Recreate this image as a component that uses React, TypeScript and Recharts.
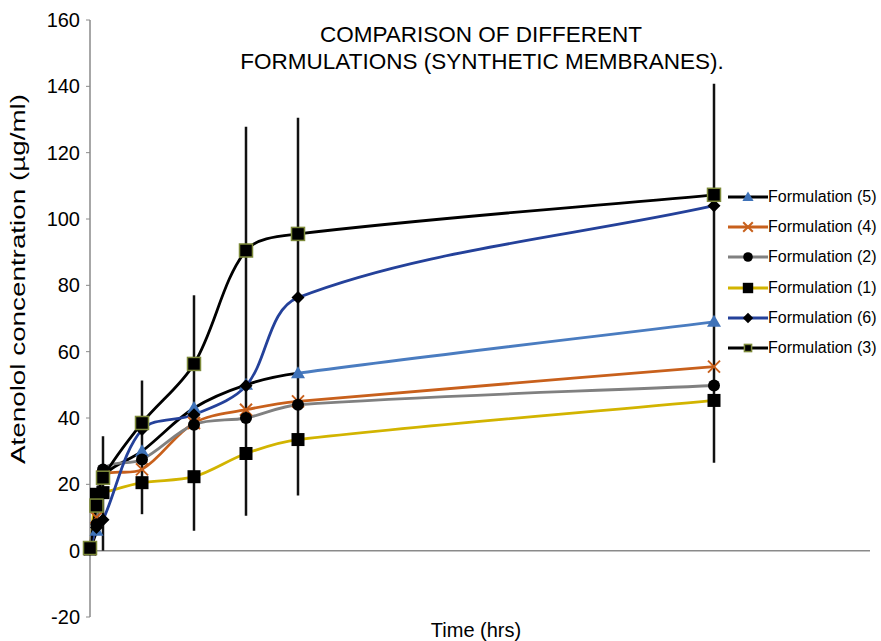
import {
    LineChart,
    Line,
    XAxis,
    YAxis,
    ErrorBar,
    ReferenceLine,
} from "recharts";

// sampling times (hrs)
const times = [0, 0.25, 0.5, 2, 4, 6, 8, 24];

// atenolol concentration (µg/ml) per formulation
const f5 = [0.5, 6, 22, 30, 43, 50, 53.5, 69];
const f4 = [0.5, 10, 22.5, 24.5, 38.5, 42.5, 45, 55.5];
const f2 = [0.5, 8, 24.5, 27.5, 38, 40, 44, 49.8];
const f1 = [0.5, 17, 17.5, 20.5, 22.3, 29.3, 33.5, 45.3];
const f6 = [0.5, 7, 9.3, 36.5, 41, 49.7, 76.3, 104];
const f3 = [0.8, 13.6, 22, 38.5, 56.3, 90.5, 95.5, 107.3];

// ends of the error whiskers drawn on formulation (3)
const whiskerLow = [null, null, 0, 11, 6, 10.5, 16.6, 26.5];
const whiskerHigh = [null, null, 34.5, 51.3, 77, 127.8, 130.5, 140.8];

const xTicks = [0, 5, 10, 15, 20, 25, 30];
const yTicks = [-20, 0, 20, 40, 60, 80, 100, 120, 140, 160];

const data = times.map((t, i) => ({
    time: t,
    f5: f5[i],
    f4: f4[i],
    f2: f2[i],
    f1: f1[i],
    f6: f6[i],
    f3: f3[i],
    err:
        whiskerLow[i] === null
            ? null
            : [f3[i] - (whiskerLow[i] as number), (whiskerHigh[i] as number) - f3[i]],
}));

const FONT = "'Liberation Sans', Arial, sans-serif";
const W = 881;
const H = 641;
const TOP = 20;
const BOTTOM = 24;
const PLOT_H = H - TOP - BOTTOM;
const ZERO_Y = TOP + (PLOT_H * 160) / 180;

// spreadsheet-style smoothed line: bezier through the points, handles scaled by chord length
function excelSmooth(context: any) {
    let pts: number[][] = [];
    const dist = (a: number[], b: number[]) => Math.hypot(b[0] - a[0], b[1] - a[1]);
    return {
        areaStart() {},
        areaEnd() {},
        lineStart() {
            pts = [];
        },
        point(x: number, y: number) {
            pts.push([+x, +y]);
        },
        lineEnd() {
            const n = pts.length;
            if (!n) return;
            context.moveTo(pts[0][0], pts[0][1]);
            for (let i = 0; i < n - 1; i++) {
                const p0 = pts[i - 1] || pts[i];
                const p1 = pts[i];
                const p2 = pts[i + 1];
                const p3 = pts[i + 2] || p2;
                const d01 = dist(p0, p1);
                const d12 = dist(p1, p2);
                const d23 = dist(p2, p3);
                const k1 = d01 + d12 > 0 ? d12 / (d01 + d12) / 3 : 0;
                const k2 = d12 + d23 > 0 ? d12 / (d12 + d23) / 3 : 0;
                context.bezierCurveTo(
                    p1[0] + (p2[0] - p0[0]) * k1,
                    p1[1] + (p2[1] - p0[1]) * k1,
                    p2[0] - (p3[0] - p1[0]) * k2,
                    p2[1] - (p3[1] - p1[1]) * k2,
                    p2[0],
                    p2[1]
                );
            }
        },
    };
}

type Shape = "triangle" | "x" | "circle" | "square" | "diamond" | "squareOlive";

const series: {
    key: string;
    name: string;
    stroke: string;
    legendStroke: string;
    shape: Shape;
}[] = [
    { key: "f5", name: "Formulation (5)", stroke: "url(#f5stroke)", legendStroke: "#000", shape: "triangle" },
    { key: "f4", name: "Formulation (4)", stroke: "#c8601c", legendStroke: "#c8601c", shape: "x" },
    { key: "f2", name: "Formulation (2)", stroke: "#808080", legendStroke: "#808080", shape: "circle" },
    { key: "f1", name: "Formulation (1)", stroke: "#d2b400", legendStroke: "#d2b400", shape: "square" },
    { key: "f6", name: "Formulation (6)", stroke: "#24419a", legendStroke: "#24419a", shape: "diamond" },
    { key: "f3", name: "Formulation (3)", stroke: "#000", legendStroke: "#000", shape: "squareOlive" },
];

function Marker({ cx, cy, shape, s = 1 }: { cx: number; cy: number; shape: Shape; s?: number }) {
    if (cx == null || cy == null) return null;
    switch (shape) {
        case "triangle":
            return (
                <path
                    d={`M${cx},${cy - 7 * s} L${cx + 7 * s},${cy + 5 * s} L${cx - 7 * s},${cy + 5 * s} Z`}
                    fill="#3f72b8"
                />
            );
        case "x":
            return (
                <g stroke="#c8601c" strokeWidth={2}>
                    <line x1={cx - 6 * s} y1={cy - 6 * s} x2={cx + 6 * s} y2={cy + 6 * s} />
                    <line x1={cx - 6 * s} y1={cy + 6 * s} x2={cx + 6 * s} y2={cy - 6 * s} />
                </g>
            );
        case "circle":
            return <circle cx={cx} cy={cy} r={6 * s} fill="#000" />;
        case "square":
            return <rect x={cx - 6.5 * s} y={cy - 6.5 * s} width={13 * s} height={13 * s} fill="#000" />;
        case "diamond":
            return (
                <path
                    d={`M${cx},${cy - 6.5 * s} L${cx + 6.5 * s},${cy} L${cx},${cy + 6.5 * s} L${cx - 6.5 * s},${cy} Z`}
                    fill="#000"
                />
            );
        case "squareOlive":
            return (
                <rect
                    x={cx - 6.5 * s}
                    y={cy - 6.5 * s}
                    width={13 * s}
                    height={13 * s}
                    fill="#000"
                    stroke="#7d8a3a"
                    strokeWidth={1.5}
                />
            );
    }
}

function XTick({ x, payload }: any) {
    return (
        <g>
            <line x1={x} x2={x} y1={ZERO_Y} y2={ZERO_Y + 5} stroke="#8a8a8a" strokeWidth={1.2} />
            <text x={x} y={ZERO_Y + 31} textAnchor="middle" fontSize={20} fill="#000" fontFamily={FONT}>
                {payload.value}
            </text>
        </g>
    );
}

function LegendBox() {
    return (
        <div
            style={{
                position: "absolute",
                left: 728,
                top: 182,
                fontFamily: FONT,
                fontSize: 16,
                color: "#000",
                whiteSpace: "nowrap",
            }}
        >
            {series.map((s) => (
                <div key={s.key} style={{ display: "flex", alignItems: "center", height: 30.2 }}>
                    <svg width={40} height={16}>
                        <line x1={0} x2={40} y1={8} y2={8} stroke={s.legendStroke} strokeWidth={3} />
                        <Marker cx={20} cy={8} shape={s.shape} s={s.shape === "squareOlive" ? 0.55 : 0.8} />
                    </svg>
                    <span>{s.name}</span>
                </div>
            ))}
        </div>
    );
}

export default function App() {
    return (
        <div style={{ position: "absolute", left: 0, top: 0, width: W, height: H, background: "#fff" }}>
            <LineChart
                width={W}
                height={H}
                data={data}
                margin={{ top: TOP, right: 11, bottom: BOTTOM, left: 0 }}
            >
                <defs>
                    <linearGradient id="f5stroke" x1="0" y1="0" x2="1" y2="0">
                        <stop offset="0" stopColor="#000" />
                        <stop offset="0.333" stopColor="#000" />
                        <stop offset="0.334" stopColor="#4a7cc0" />
                        <stop offset="1" stopColor="#4a7cc0" />
                    </linearGradient>
                </defs>

                <text x={481} y={42} textAnchor="middle" fontSize={22.5} fontFamily={FONT} fill="#000">
                    COMPARISON OF DIFFERENT
                </text>
                <text x={482} y={69} textAnchor="middle" fontSize={22.5} fontFamily={FONT} fill="#000">
                    FORMULATIONS (SYNTHETIC MEMBRANES).
                </text>
                <text x={476} y={637} textAnchor="middle" fontSize={20} fontFamily={FONT} fill="#000">
                    Time (hrs)
                </text>
                <text
                    x={25}
                    y={279}
                    textAnchor="middle"
                    fontSize={21}
                    fontFamily={FONT}
                    fill="#000"
                    textLength={370}
                    lengthAdjust="spacingAndGlyphs"
                    transform="rotate(-90 25 279)"
                >
                    Atenolol concentration (µg/ml)
                </text>

                <XAxis
                    dataKey="time"
                    type="number"
                    domain={[0, 30]}
                    ticks={xTicks}
                    height={0}
                    axisLine={false}
                    tickLine={false}
                    tick={<XTick />}
                    interval={0}
                />
                <YAxis
                    type="number"
                    domain={[-20, 160]}
                    ticks={yTicks}
                    width={90}
                    interval={0}
                    axisLine={{ stroke: "#8a8a8a", strokeWidth: 1.5 }}
                    tickLine={{ stroke: "#8a8a8a" }}
                    tickSize={4}
                    tickMargin={6}
                    tick={{ fill: "#000", fontSize: 20, fontFamily: FONT }}
                />
                <ReferenceLine y={0} stroke="#8a8a8a" strokeWidth={1.5} />

                {series.map((s) => (
                    <Line
                        key={s.key}
                        dataKey={s.key}
                        name={s.name}
                        type={excelSmooth as any}
                        stroke={s.stroke}
                        strokeWidth={2.8}
                        isAnimationActive={false}
                        activeDot={false}
                        dot={(p: any) => <Marker key={`${s.key}-${p.index}`} cx={p.cx} cy={p.cy} shape={s.shape} />}
                    >
                        {s.key === "f3" && (
                            <ErrorBar
                                dataKey="err"
                                width={0}
                                stroke="#111"
                                strokeWidth={2.5}
                                direction="y"
                                isAnimationActive={false}
                            />
                        )}
                    </Line>
                ))}
            </LineChart>
            <LegendBox />
        </div>
    );
}
